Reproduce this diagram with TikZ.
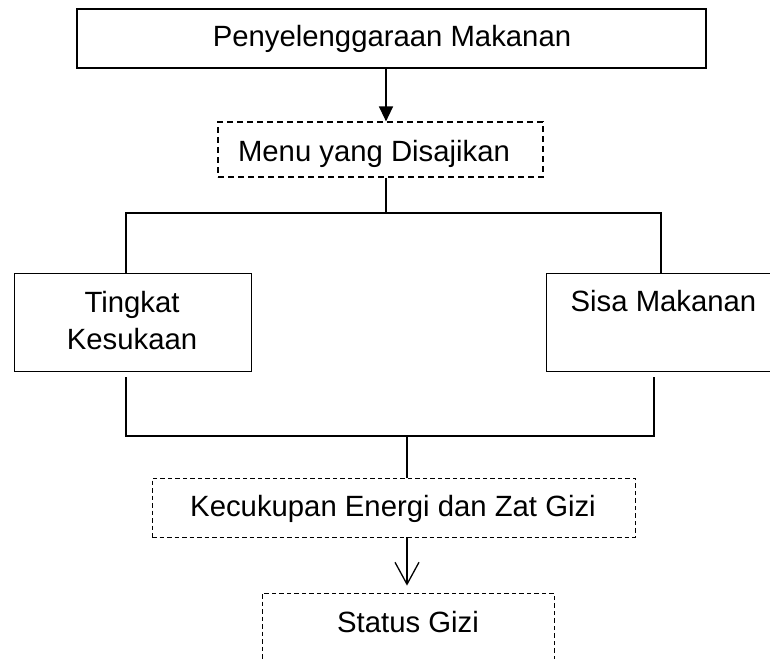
\documentclass[tikz,border=0pt]{standalone}
\usepackage{fontspec}
\setmainfont{Liberation Sans}
\usetikzlibrary{arrows.meta}
\begin{document}
\begin{tikzpicture}[x=1pt,y=-1pt,
  solidbox/.style={draw=black, line width=1.3pt, inner sep=0pt},
  dashbox/.style={draw=black, line width=1.2pt, inner sep=0pt, dash pattern=on 6pt off 4pt},
  thindash/.style={draw=black, line width=0.8pt, inner sep=0pt, dash pattern=on 4.5pt off 3pt},
  txt/.style={inner sep=0pt, font=\fontsize{29.3}{37}\selectfont},
  conn/.style={line width=1.4pt},
  filledarrow/.style={conn, -{Triangle[length=15pt,width=14pt]}},
  openarrow/.style={line width=1.3pt, -{Straight Barb[length=22pt,width=24pt,line width=1.3pt]}}
]
\clip (0,0) rectangle (770,658);
\fill[white] (0,0) rectangle (770,658);

% boxes
\node[solidbox, minimum width=629pt, minimum height=59pt] (top) at (391.5,38.5) {};
\node[dashbox, minimum width=325pt, minimum height=55pt] (menu) at (380.5,149.5) {};
\node[solidbox, line width=1pt, minimum width=237pt, minimum height=98pt] (left) at (132.5,322) {};
\node[solidbox, line width=1pt, minimum width=235pt, minimum height=98pt] (right) at (663.5,322) {};
\node[thindash, minimum width=483pt, minimum height=59pt] (kec) at (393.5,507.5) {};
\node[thindash, minimum width=292pt, minimum height=90pt] (status) at (408,638) {};

% texts
\node[txt, anchor=base] (ttop) at (392,47) {Penyelenggaraan Makanan};
\node[txt, anchor=base] (tmenu) at (374,161) {Menu yang Disajikan};
\node[txt, anchor=base] (tleft1) at (132,312) {Tingkat};
\node[txt, anchor=base] (tleft2) at (132,349) {Kesukaan};
\node[txt, anchor=base] (tright) at (663.5,311) {Sisa Makanan};
\node[txt, anchor=base] (tkec) at (393,516) {Kecukupan Energi dan Zat Gizi};
\node[txt, anchor=base] (tstatus) at (408,632) {Status Gizi};

% helper coordinates
\coordinate (c1) at (386,213);
\coordinate (tl) at (126,213);
\coordinate (tr) at (661,213);
\coordinate (bl) at (126,377);
\coordinate (br) at (654,377);
\coordinate (bj) at (407,436);

% connectors
\draw[filledarrow] (c1 |- top.south) -- (c1 |- menu.north);
\draw[conn] (c1 |- menu.south) -- (c1);
\draw[conn] (tl |- left.north) -- (tl) -- (tr) -- (tr |- right.north);
\draw[conn] (bl) -- (bl |- bj) -- (br |- bj) -- (br);
\draw[conn] (bj) -- (bj |- kec.north);
\draw[openarrow] (bj |- kec.south) -- ([yshift=7pt]bj |- status.north);
\end{tikzpicture}
\end{document}
